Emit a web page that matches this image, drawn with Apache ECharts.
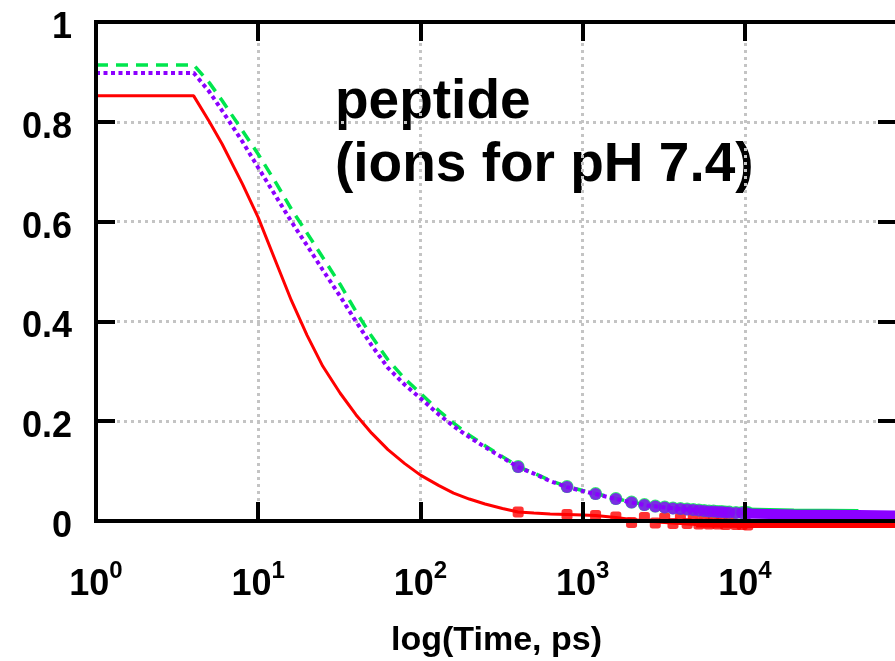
<!DOCTYPE html>
<html>
<head>
<meta charset="utf-8">
<script src="https://cdn.jsdelivr.net/npm/echarts@6/dist/echarts.min.js"></script>
<style>
html, body { margin: 0; padding: 0; background: #fff; }
#chart { width: 895px; height: 661px; }
</style>
</head>
<body>
<div id="chart"></div>
<script>
// curves (time in ps, log axis)
var curveTimes = [1, 2, 3, 4, 5, 6, 8, 10, 13, 16, 20, 25, 32, 40, 50, 63, 80, 100, 130, 160, 200, 250, 320, 400, 500, 630, 800, 1000, 1200, 1600, 2000, 2500, 3200, 4000, 5000];
var redCurve    = [0.852, 0.852, 0.852, 0.852, 0.800, 0.755, 0.675, 0.608, 0.515, 0.442, 0.372, 0.310, 0.256, 0.213, 0.176, 0.143, 0.115, 0.092, 0.071, 0.056, 0.044, 0.034, 0.025, 0.018, 0.016, 0.014, 0.013, 0.012, 0.011, 0.007, 0.003, 0.000, -0.003, -0.005, -0.007];
var greenCurve  = [0.914, 0.914, 0.914, 0.914, 0.878, 0.842, 0.782, 0.735, 0.675, 0.625, 0.577, 0.528, 0.474, 0.420, 0.370, 0.323, 0.285, 0.256, 0.221, 0.196, 0.172, 0.151, 0.129, 0.109, 0.096, 0.081, 0.069, 0.061, 0.055, 0.045, 0.038, 0.032, 0.028, 0.025, 0.022];
var purpleCurve = [0.898, 0.898, 0.898, 0.898, 0.860, 0.822, 0.760, 0.708, 0.648, 0.600, 0.552, 0.503, 0.450, 0.400, 0.352, 0.307, 0.273, 0.246, 0.213, 0.190, 0.168, 0.148, 0.127, 0.108, 0.095, 0.080, 0.068, 0.060, 0.054, 0.044, 0.037, 0.031, 0.027, 0.024, 0.021];

// sampled points every 400 ps
var markTimes   = [400, 800, 1200, 1600, 2000, 2400, 2800, 3200, 3600, 4000, 4400, 4800, 5200, 5600, 6000, 6400, 6800, 7200, 7600, 8000, 8800, 9600, 10400];
var redMarks    = [0.018, 0.013, 0.011, 0.008, -0.003, 0.007, -0.004, 0.006, -0.005, 0.005, -0.005, 0.004, -0.006, 0.004, -0.006, 0.003, -0.006, 0.002, -0.007, 0.002, -0.007, -0.007, -0.008];
var greenMarks  = [0.109, 0.069, 0.055, 0.045, 0.038, 0.033, 0.030, 0.028, 0.026, 0.025, 0.024, 0.023, 0.022, 0.021, 0.020, 0.020, 0.019, 0.019, 0.018, 0.018, 0.017, 0.017, 0.017];
var purpleMarks = [0.108, 0.068, 0.054, 0.044, 0.037, 0.032, 0.029, 0.027, 0.025, 0.024, 0.023, 0.022, 0.021, 0.020, 0.019, 0.019, 0.018, 0.018, 0.017, 0.017, 0.016, 0.016, 0.015];

// long-time tail, points so dense they form a band
var redTailT    = [5000, 10000, 20000, 86500];
var redTail     = [-0.007, -0.008, -0.008, -0.008];
var greenTailT  = [10000, 20000, 50000];
var greenTail   = [0.017, 0.015, 0.014];
var purpleTailT = [10000, 20000, 50000, 86500];
var purpleTail  = [0.015, 0.013, 0.012, 0.011];

var xMin = 1, xMax = 86500;
var yMin = 0, yMax = 1, yStep = 0.2;

var RED = '#ff0000', GREEN = '#00e64d', PURPLE = '#8b00ff';
var FONT = '"Liberation Sans", Arial, sans-serif';

function pairs(xs, ys) {
    return xs.map(function(x, i) { return [x, ys[i]]; });
}

var gridDots = { color: '#c4c4c4', width: 3, type: [3, 4] };
var frameLine = { show: true, onZero: false, lineStyle: { color: '#000', width: 4, cap: 'square' } };
var frameTick = { show: true, inside: true, length: 19, lineStyle: { color: '#000', width: 4 } };

function frameX(pos) {
    return {
        type: 'log', logBase: 10, min: xMin, max: xMax, position: pos, z: 10,
        axisLine: frameLine, axisTick: frameTick,
        axisLabel: { show: false }, splitLine: { show: false }
    };
}
function frameY(pos) {
    return {
        type: 'value', min: yMin, max: yMax, interval: yStep, position: pos, z: 10,
        axisLine: frameLine, axisTick: frameTick,
        axisLabel: { show: false }, splitLine: { show: false }
    };
}

var option = {
    animation: false,
    backgroundColor: '#fff',
    grid: { left: 96, top: 22, width: 801, height: 499, containLabel: false, outerBoundsMode: 'none' },
    graphic: [{
        type: 'text',
        x: 335, y: 71,
        style: {
            text: 'peptide\n(ions for pH 7.4)',
            font: 'bold 55px ' + FONT,
            lineHeight: 63,
            fill: '#000'
        }
    }],
    xAxis: [
        {
            type: 'log', logBase: 10, min: xMin, max: xMax, position: 'bottom',
            axisLine: { show: false }, axisTick: { show: false },
            splitLine: { show: true, lineStyle: gridDots },
            axisLabel: {
                margin: 38,
                showMaxLabel: false,
                formatter: function(v) {
                    var e = Math.log10(v);
                    if (Math.abs(e - Math.round(e)) > 1e-6) return '';
                    return '{b|10}{s|' + Math.round(e) + '}';
                },
                rich: {
                    b: { fontSize: 36, fontWeight: 'bold', fontFamily: FONT, color: '#000', lineHeight: 44, verticalAlign: 'bottom' },
                    s: { fontSize: 24, fontWeight: 'bold', fontFamily: FONT, color: '#000', lineHeight: 22, verticalAlign: 'top' }
                }
            },
            name: 'log(Time, ps)',
            nameLocation: 'middle',
            nameGap: 103,
            nameTextStyle: { fontSize: 34, fontWeight: 'bold', fontFamily: FONT, color: '#000' }
        },
        frameX('bottom'),
        frameX('top')
    ],
    yAxis: [
        {
            type: 'value', min: yMin, max: yMax, interval: yStep, position: 'left',
            axisLine: { show: false }, axisTick: { show: false },
            splitLine: { show: true, lineStyle: gridDots },
            axisLabel: {
                margin: 24, verticalAlign: 'top', lineHeight: 12,
                fontSize: 36, fontWeight: 'bold', fontFamily: FONT, color: '#000'
            }
        },
        frameY('left'),
        frameY('right')
    ],
    series: [
        {
            name: 'red', type: 'line', data: pairs(curveTimes, redCurve),
            showSymbol: false, clip: false, z: 3,
            lineStyle: { color: RED, width: 3 }
        },
        {
            name: 'red tail', type: 'line', data: pairs(redTailT, redTail),
            showSymbol: false, clip: false, z: 3,
            lineStyle: { color: RED, width: 6 }
        },
        {
            name: 'red pts', type: 'scatter', data: pairs(markTimes, redMarks),
            symbol: 'roundRect', symbolSize: 11, clip: false, z: 3,
            itemStyle: { color: RED }
        },
        {
            name: 'green', type: 'line', data: pairs(curveTimes, greenCurve),
            showSymbol: false, clip: false, z: 4,
            lineStyle: { color: GREEN, width: 3.5, type: [12, 8] }
        },
        {
            name: 'green tail', type: 'line', data: pairs(greenTailT, greenTail),
            showSymbol: false, clip: false, z: 4,
            lineStyle: { color: GREEN, width: 10 }
        },
        {
            name: 'green pts', type: 'scatter', data: pairs(markTimes, greenMarks),
            symbol: 'circle', symbolSize: 13, clip: false, z: 4,
            itemStyle: { color: GREEN }
        },
        {
            name: 'purple', type: 'line', data: pairs(curveTimes, purpleCurve),
            showSymbol: false, clip: false, z: 5,
            lineStyle: { color: PURPLE, width: 4, type: [4, 3.5] }
        },
        {
            name: 'purple tail', type: 'line', data: pairs(purpleTailT, purpleTail),
            showSymbol: false, clip: false, z: 5,
            lineStyle: { color: PURPLE, width: 10 }
        },
        {
            name: 'purple pts', type: 'scatter', data: pairs(markTimes, purpleMarks),
            symbol: 'circle', symbolSize: 12, clip: false, z: 5,
            itemStyle: { color: PURPLE }
        }
    ]
};

var myChart = echarts.init(document.getElementById('chart'));
myChart.setOption(option);
</script>
</body>
</html>
